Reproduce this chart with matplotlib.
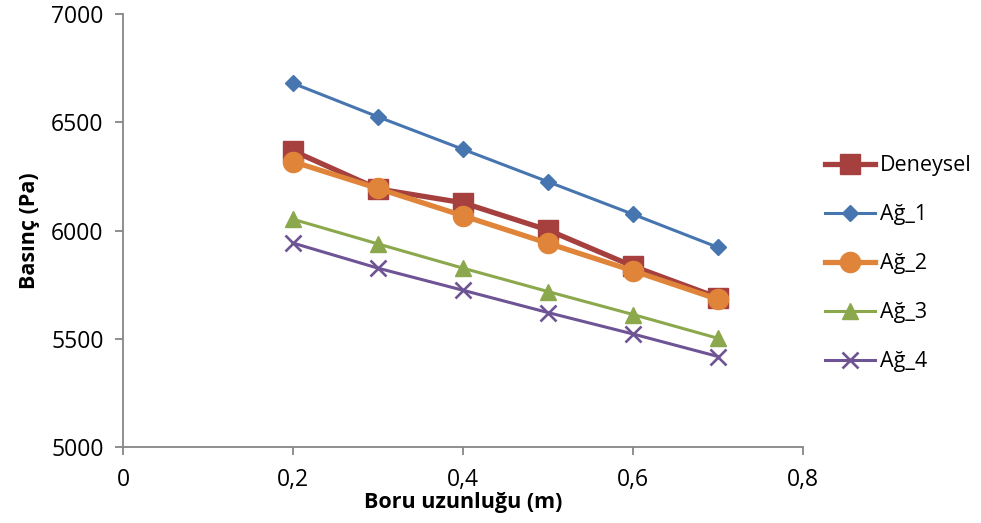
import matplotlib
matplotlib.use("Agg")
import matplotlib.pyplot as plt
from matplotlib.ticker import FuncFormatter

plt.rcParams['font.family'] = ['Open Sans', 'DejaVu Sans']

# Pipe length (m)
uzunluk = [0.2, 0.3, 0.4, 0.5, 0.6, 0.7]

# Pressure (Pa) per series
deneysel = [6368, 6192, 6128, 6002, 5835, 5690]
ag_1 = [6680, 6525, 6375, 6225, 6075, 5922]
ag_2 = [6318, 6194, 6068, 5941, 5814, 5682]
ag_3 = [6052, 5938, 5826, 5718, 5612, 5502]
ag_4 = [5942, 5826, 5724, 5621, 5522, 5418]

seri_adlari = ["Deneysel", "Ağ_1", "Ağ_2", "Ağ_3", "Ağ_4"]
x_ticks = [0, 0.2, 0.4, 0.6, 0.8]
y_ticks = [5000, 5500, 6000, 6500, 7000]

fig = plt.figure(figsize=(9.81, 5.23), dpi=100)
ax = fig.add_axes([123 / 981, (523 - 447) / 523, (803 - 123) / 981, (447 - 14) / 523])

styles = [
    dict(color="#A5403E", lw=3.8, marker="s", ms=14, zorder=3),
    dict(color="#4675B0", lw=2.2, marker="D", ms=8.5, zorder=4),
    dict(color="#E0843A", lw=3.8, marker="o", ms=14.5, zorder=5),
    dict(color="#8BA84C", lw=2.2, marker="^", ms=11.5, zorder=3),
    dict(color="#6E5494", lw=2.2, marker="x", ms=11, mew=1.9, zorder=3),
]

for vals, name, st in zip([deneysel, ag_1, ag_2, ag_3, ag_4], seri_adlari, styles):
    ax.plot(uzunluk, vals, label=name, **st)

ax.set_xlim(0, 0.8)
ax.set_ylim(5000, 7000)
ax.set_xticks(x_ticks)
ax.set_yticks(y_ticks)

def comma_fmt(v, pos):
    if abs(v) < 1e-9:
        return "0"
    return f"{v:.1f}".replace(".", ",")

ax.xaxis.set_major_formatter(FuncFormatter(comma_fmt))

for side in ["top", "right"]:
    ax.spines[side].set_visible(False)
for side in ["left", "bottom"]:
    ax.spines[side].set_color("#868686")
    ax.spines[side].set_linewidth(1.3)

ax.tick_params(axis="both", colors="#868686", length=6, width=1.3, labelcolor="black", labelsize=16.5)
ax.tick_params(axis="x", pad=9)
ax.tick_params(axis="y", pad=8)

ax.set_xlabel("Boru uzunluğu (m)", fontsize=15.5, fontweight="bold", labelpad=0)
ax.set_ylabel("Basınç (Pa)", fontsize=15.5, fontweight="bold", labelpad=8)

fig.legend(loc="upper left", bbox_to_anchor=(806 / 981, 1 - 136 / 523), frameon=False,
           fontsize=15.5, handlelength=2.3, handletextpad=0.25, labelspacing=1.3)

fig.savefig("out.png", dpi=100)
